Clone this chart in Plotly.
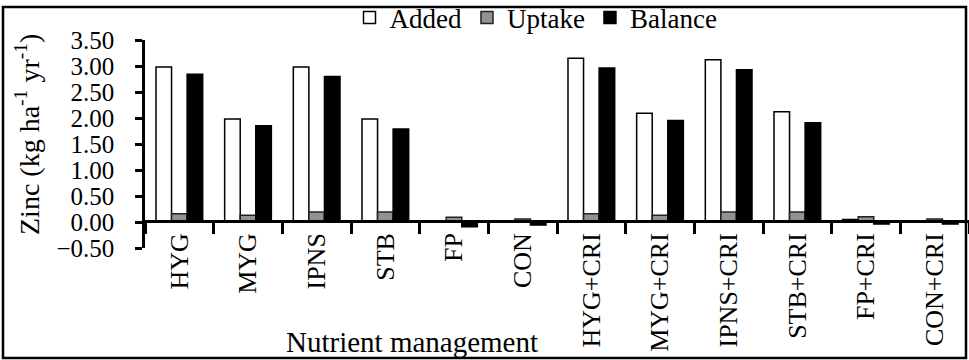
import plotly.graph_objects as go

categories = ["HYG", "MYG", "IPNS", "STB", "FP", "CON",
              "HYG+CRI", "MYG+CRI", "IPNS+CRI", "STB+CRI", "FP+CRI", "CON+CRI"]
added = [2.98, 1.98, 2.98, 1.98, 0.0, 0.0, 3.15, 2.09, 3.12, 2.12, 0.05, 0.02]
uptake = [0.16, 0.13, 0.19, 0.19, 0.09, 0.06, 0.16, 0.13, 0.19, 0.19, 0.10, 0.06]
balance = [2.84, 1.85, 2.80, 1.79, -0.09, -0.06, 2.96, 1.95, 2.93, 1.91, -0.04, -0.04]
y_ticks = [-0.5, 0.0, 0.5, 1.0, 1.5, 2.0, 2.5, 3.0, 3.5]

FONT = "Liberation Serif, Times New Roman, serif"
W, H = 969, 360
L, R, T, B = 145, 0, 40, 112
PW, PH = W - L - R, H - T - B


def px(x):
    return (x - L) / PW


def py(y):
    return (H - B - y) / PH


fig = go.Figure()
fig.add_trace(go.Bar(name="Added", x=categories, y=added,
                     marker=dict(color="white", line=dict(color="black", width=1.5))))
fig.add_trace(go.Bar(name="Uptake", x=categories, y=uptake,
                     marker=dict(color="#929292", line=dict(color="#222222", width=1.5))))
fig.add_trace(go.Bar(name="Balance", x=categories, y=balance,
                     marker=dict(color="black", line=dict(color="black", width=1.5))))

fig.update_layout(
    width=W, height=H,
    margin=dict(l=L, r=R, t=T, b=B, autoexpand=False),
    paper_bgcolor="white", plot_bgcolor="white",
    barmode="group", bargap=0.32, bargroupgap=0,
    font=dict(family=FONT, color="black", size=25),
    showlegend=True,
    legend=dict(orientation="h", x=px(536), xanchor="center", y=py(18), yanchor="middle",
                font=dict(family=FONT, size=27, color="black"),
                itemwidth=30, bgcolor="rgba(0,0,0,0)", tracegroupgap=0),
    xaxis=dict(type="category", showline=True, linecolor="black", linewidth=2.5,
               ticks="outside", tickson="boundaries", ticklen=11, tickwidth=2.5,
               tickcolor="black", tickangle=-90, showgrid=False, zeroline=False,
               anchor="free", position=py(221), range=[-0.5, 11.5],
               tickfont=dict(family=FONT, size=26, color="black")),
    yaxis=dict(range=[-0.5, 3.5], tickvals=y_ticks, tickformat=".2f",
               showline=True, linecolor="black", linewidth=2.5,
               ticks="outside", ticklen=7, tickwidth=2.5, tickcolor="black",
               ticklabelstandoff=16, showgrid=False, zeroline=False,
               tickfont=dict(family=FONT, size=25, color="black")),
    shapes=[dict(type="rect", xref="paper", yref="paper",
                 x0=px(3), x1=px(966), y0=py(358), y1=py(7),
                 line=dict(color="black", width=2.5), fillcolor="rgba(0,0,0,0)",
                 layer="below")],
    annotations=[
        dict(text="Zinc (kg ha<sup>-1</sup> yr<sup>-1</sup>)", xref="paper", yref="paper",
             x=px(27), y=py(135), textangle=-90, showarrow=False,
             xanchor="center", yanchor="middle",
             font=dict(family=FONT, size=28, color="black")),
        dict(text="Nutrient management", xref="paper", yref="paper",
             x=px(412), y=py(342), showarrow=False, xanchor="center", yanchor="middle",
             font=dict(family=FONT, size=29, color="black")),
    ],
)

fig.write_html(
    "out.html",
    config={"displayModeBar": False},
    post_script="document.body.style.margin='0';document.body.style.padding='0';"
                "document.documentElement.style.overflow='hidden';",
)
